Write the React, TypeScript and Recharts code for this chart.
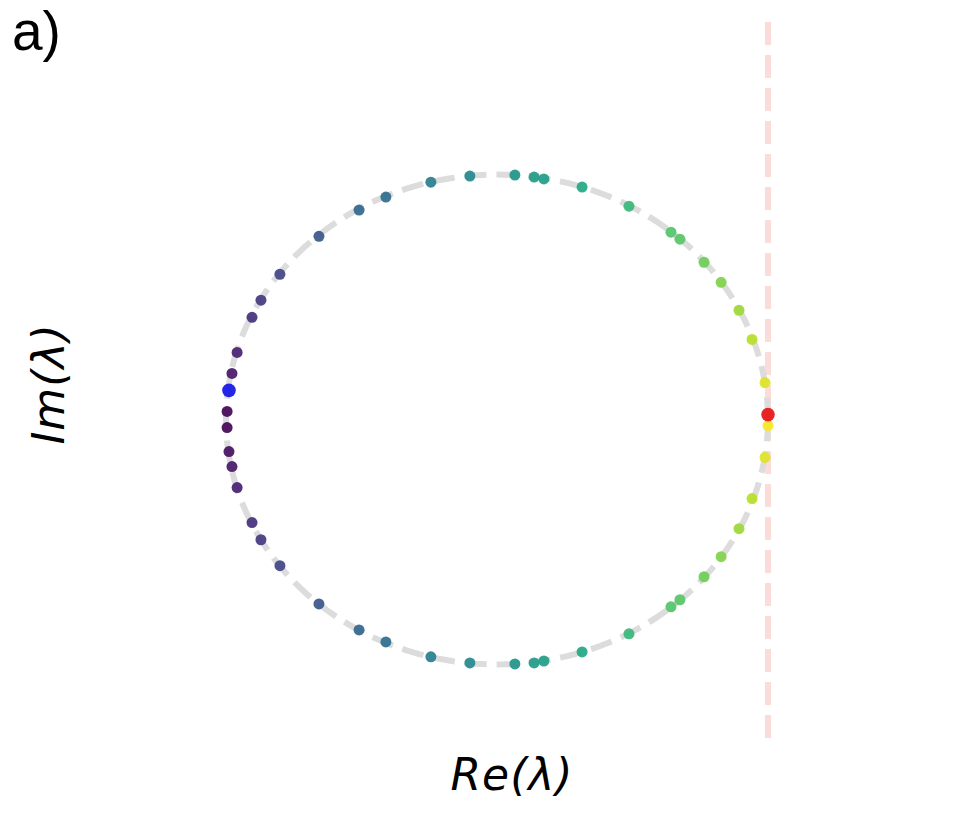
import { ScatterChart, Scatter, XAxis, YAxis, ReferenceLine, Cell } from "recharts";

// eigenvalues (Re, Im)
const eigRe = [
  -1.244, -1.1, -0.934, -0.863, -0.827, -0.686, -0.513, -0.358, -0.325, -0.236, -0.173, -0.107, -0.059, -0.011,
  -1.41, -1.509, -1.657, -1.801, -1.871, -1.904, -1.959, -1.978,
  -1.996, -1.996, -1.989, -1.978, -1.959, -1.904, -1.871, -1.801, -1.657, -1.509, -1.41,
  -1.244, -1.1, -0.934, -0.863, -0.827, -0.686, -0.513, -0.358, -0.325, -0.236, -0.173, -0.107, -0.059, -0.011, 0.0,
];
const eigIm = [
  0.969, 0.994, 0.998, 0.99, 0.982, 0.949, 0.871, 0.765, 0.736, 0.642, 0.56, 0.446, 0.327, 0.151,
  0.908, 0.855, 0.748, 0.593, 0.487, 0.417, 0.274, 0.188,
  0.033, -0.033, -0.131, -0.192, -0.278, -0.421, -0.491, -0.597, -0.753, -0.859, -0.908,
  -0.969, -0.994, -0.998, -0.994, -0.986, -0.949, -0.875, -0.765, -0.736, -0.642, -0.56, -0.446, -0.323, -0.155, -0.025,
];
const blueRe = [-1.989];
const blueIm = [0.119];
const redRe = [0.0];
const redIm = [0.02];

const ringCenter = -1;
const ringRadius = 1;
const ringSteps = 240;

const viridis = [
  "#440154", "#482475", "#414487", "#355f8d", "#2a788e", "#21918c",
  "#22a884", "#44bf70", "#7ad151", "#bddf26", "#fde725",
];

const hex = (c: string) => [1, 3, 5].map((i) => parseInt(c.slice(i, i + 2), 16));

function viridisAt(t: number) {
  const v = Math.max(0, Math.min(1, t)) * (viridis.length - 1);
  const i = Math.min(Math.floor(v), viridis.length - 2);
  const f = v - i;
  const a = hex(viridis[i]);
  const b = hex(viridis[i + 1]);
  const m = a.map((x, k) => Math.round(x + (b[k] - x) * f));
  return `rgb(${m[0]},${m[1]},${m[2]})`;
}

const points = eigRe.map((re, i) => ({ re, im: eigIm[i] }));
const blue = blueRe.map((re, i) => ({ re, im: blueIm[i] }));
const red = redRe.map((re, i) => ({ re, im: redIm[i] }));
// the reference circle |λ + 1| = 1
const ring = Array.from({ length: ringSteps + 1 }, (_, k) => {
  const a = (k / ringSteps) * 2 * Math.PI;
  return { re: ringCenter + ringRadius * Math.cos(a), im: ringRadius * Math.sin(a) };
});

const colorOf = (p: { re: number; im: number }) =>
  viridisAt(1 - Math.atan2(Math.abs(p.im), p.re - ringCenter) / Math.PI);

const dot = (r: number, fill?: string) => (props: any) =>
  <circle cx={props.cx} cy={props.cy} r={r} fill={fill ?? props.fill} fillOpacity={0.92} />;

const mathFont = "'DejaVu Sans', sans-serif";

export default function App() {
  return (
    <div style={{ position: "absolute", left: 0, top: 0, width: 960, height: 830, background: "#fff" }}>
      <ScatterChart width={960} height={830} margin={{ top: 16.6, right: 56.5, bottom: 92.1, left: 90.5 }}>
        <XAxis type="number" dataKey="re" domain={[-2.5, 0.5]} allowDataOverflow hide />
        <YAxis type="number" dataKey="im" domain={[-1.3, 1.645]} allowDataOverflow hide />
        <Scatter
          data={ring}
          line={{ stroke: "#dcdcdc", strokeWidth: 6, strokeDasharray: "22 10" }}
          lineType="joint"
          shape={() => <g />}
          isAnimationActive={false}
        />
        <ReferenceLine x={0} stroke="#fcdcd9" strokeWidth={6} strokeDasharray="23 10" />
        <Scatter data={points} shape={dot(5.5)} isAnimationActive={false}>
          {points.map((p, i) => (
            <Cell key={i} fill={colorOf(p)} />
          ))}
        </Scatter>
        <Scatter data={blue} shape={dot(6.8, "#1414e6")} isAnimationActive={false} />
        <Scatter data={red} shape={dot(6.8, "#e61414")} isAnimationActive={false} />
      </ScatterChart>
      <svg width={960} height={830} style={{ position: "absolute", left: 0, top: 0, pointerEvents: "none" }}>
        <text x={12} y={50} fontFamily="'Liberation Sans', Arial, sans-serif" fontSize={55} fill="#000">
          a)
        </text>
        <text x={512} y={790} textAnchor="middle" fontFamily={mathFont} fontStyle="italic" fontSize={44} letterSpacing={1} fill="#000">
          Re(λ)
        </text>
        <text
          transform="translate(64,384) rotate(-90)"
          textAnchor="middle"
          fontFamily={mathFont}
          fontStyle="italic"
          fontSize={44}
          letterSpacing={1}
          fill="#000"
        >
          Im(λ)
        </text>
      </svg>
    </div>
  );
}
